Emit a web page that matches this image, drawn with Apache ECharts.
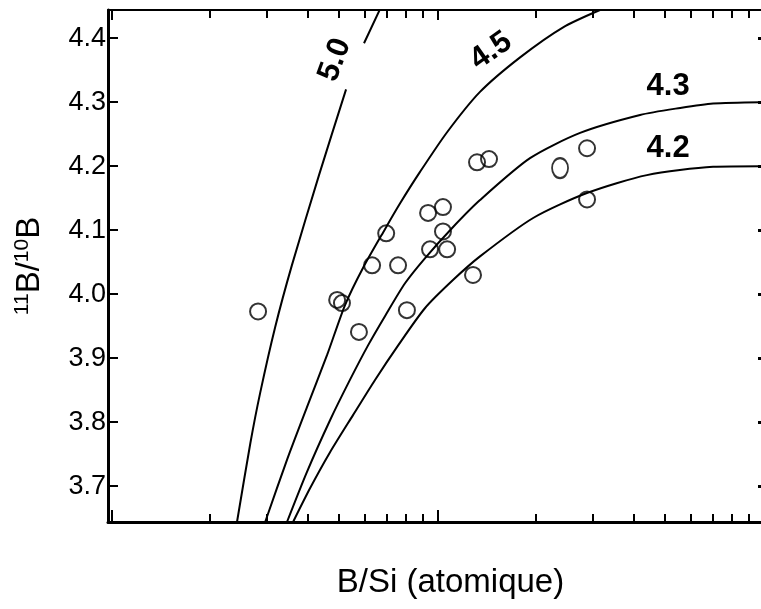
<!DOCTYPE html>
<html>
<head>
<meta charset="utf-8">
<script src="https://cdn.jsdelivr.net/npm/echarts@6/dist/echarts.min.js"></script>
<style>html,body{margin:0;padding:0;background:#fff}#c{width:761px;height:609px}</style>
</head>
<body>
<div id="c"></div>
<script>
// ---- data (B/Si atomic ratio, 11B/10B isotope ratio) ----
const sampleBSi   = [0.00282,0.00493,0.00510,0.00575,0.00807,0.00631,0.00697,0.00758,0.00937,0.01041,0.01041,0.00950,0.01072,0.01287,0.01324,0.01441,0.0238,0.0288,0.0288];
const sampleRatio = [3.973,3.991,3.986,3.941,3.975,4.045,4.095,4.045,4.127,4.136,4.098,4.070,4.070,4.030,4.206,4.211,4.197,4.228,4.148];

const curve50BSi   = [0.00243,0.00267,0.00286,0.00318,0.00358,0.004337,0.00525,null,0.00596,0.006768];
const curve50Ratio = [3.644,3.767,3.845,3.948,4.045,4.186,4.320,null,4.392,4.452];

const curve45BSi   = [0.002965,0.003459,0.003981,0.004592,0.005212,0.005916,0.006918,0.007691,0.008851,0.010715,0.01352,0.017947,0.024322,0.03155];
const curve45Ratio = [3.644,3.741,3.823,3.905,3.983,4.041,4.102,4.142,4.191,4.253,4.316,4.370,4.417,4.444];

const curve43BSi   = [0.003459,0.003981,0.004688,0.005395,0.006132,0.006918,0.007962,0.009162,0.01109,0.01352,0.01925,0.02742,0.04188,0.05559,0.07015,0.0984];
const curve43Ratio = [3.644,3.722,3.803,3.866,3.920,3.966,4.017,4.056,4.103,4.147,4.2125,4.252,4.280,4.291,4.298,4.300];

const curve42BSi   = [0.003611,0.004074,0.004688,0.005514,0.006442,0.007586,0.009162,0.01117,0.01352,0.01968,0.02877,0.04395,0.07015,0.0984];
const curve42Ratio = [3.644,3.697,3.753,3.811,3.866,3.920,3.978,4.022,4.059,4.119,4.158,4.186,4.199,4.200];

const curveNames = ['5.0','4.5','4.3','4.2'];
const yTickValues = [3.7,3.8,3.9,4.0,4.1,4.2,4.3,4.4];
const xMajorTicks = [0.001,0.01];
const xMinorTicks = [0.002,0.003,0.004,0.005,0.006,0.007,0.008,0.009,0.02,0.03,0.04,0.05,0.06,0.07,0.08,0.09];
const xRange = [0.000977,0.0984];
const yRange = [3.644,4.444];

// ---- build ----
const lg = v => Math.log10(v);
function pairs(xs, ys){ return xs.map((x,i)=> (x==null||ys[i]==null) ? '-' : [lg(x), ys[i]]); }
const XMIN = lg(xRange[0]), XMAX = lg(xRange[1]);

const chart = echarts.init(document.getElementById('c'), null, {renderer:'canvas'});
const font = 'Liberation Sans, Arial, Helvetica, sans-serif';

function xAx(pos, ticks, len, extra){
  return Object.assign({
    type:'value', position:pos, min:XMIN, max:XMAX,
    axisLine:{show:false},
    axisTick:{show:true, inside:true, length:len, customValues:ticks.map(lg), lineStyle:{color:'#000', width:2}},
    axisLabel:{show:false}, splitLine:{show:false}
  }, extra||{});
}

const labelStyle = {show:true, position:'inside', color:'#000', fontFamily:font, fontWeight:'bold', fontSize:31};
function curveSeries(name, xs, ys, lblCoord, rot){
  return {
    type:'line', name:name, data:pairs(xs, ys), showSymbol:false, symbol:'none',
    smooth:0.25, connectNulls:false, clip:true,
    lineStyle:{color:'#000', width:2}, silent:true, z:2,
    markPoint:{symbol:'circle', symbolSize:0, silent:true,
      data:[{coord:lblCoord, value:name}],
      label:Object.assign({formatter:name, rotate:rot}, labelStyle)}
  };
}

const scatterData = sampleBSi.map((x,i)=>{
  const d = {value:[lg(x), sampleRatio[i]]};
  if (i === 16) d.symbolSize = [16,20];
  return d;
});

chart.setOption({
  animation:false,
  backgroundColor:'#fff',
  grid:{left:108, right:0, top:10, bottom:87, containLabel:false},
  xAxis:[
    xAx('bottom', xMajorTicks, 12, {
      axisLine:{show:true, onZero:false, lineStyle:{color:'#000', width:3}},
      name:'B/Si (atomique)', nameLocation:'middle', nameGap:44,
      nameTextStyle:{fontFamily:font, fontSize:33, color:'#000', padding:[0,0,0,32]}
    }),
    xAx('bottom', xMinorTicks, 8),
    xAx('top', xMajorTicks, 10, {axisLine:{show:true, onZero:false, lineStyle:{color:'#000', width:2}}}),
    xAx('top', xMinorTicks, 8)
  ],
  yAxis:[
    {type:'value', position:'left', min:yRange[0], max:yRange[1],
     axisLine:{show:true, onZero:false, lineStyle:{color:'#000', width:3}},
     axisTick:{show:true, inside:true, length:10, customValues:yTickValues, lineStyle:{color:'#000', width:2}},
     axisLabel:{show:true, customValues:yTickValues, formatter:v=>Number(v).toFixed(1), fontFamily:font, fontSize:27, color:'#000', margin:2},
     splitLine:{show:false},
     name:'{sup|11}{b|B/}{sup|10}{b|B}', nameLocation:'middle', nameGap:60, nameRotate:90,
     nameTextStyle:{fontFamily:font, color:'#000', fontSize:33,
       rich:{b:{fontFamily:font, fontSize:33, color:'#000', lineHeight:36},
             sup:{fontFamily:font, fontSize:21, color:'#000', verticalAlign:'top', lineHeight:36, padding:[0,0,10,0]}}}
    },
    {type:'value', position:'right', min:yRange[0], max:yRange[1],
     axisLine:{show:false},
     axisTick:{show:true, inside:true, length:3, customValues:yTickValues, lineStyle:{color:'#000', width:3}},
     axisLabel:{show:false}, splitLine:{show:false}}
  ],
  series:[
    curveSeries(curveNames[0], curve50BSi, curve50Ratio, [-2.314, 4.366], 70),
    curveSeries(curveNames[1], curve45BSi, curve45Ratio, [-1.835, 4.380], 35),
    curveSeries(curveNames[2], curve43BSi, curve43Ratio, [-1.292, 4.325], 0),
    curveSeries(curveNames[3], curve42BSi, curve42Ratio, [-1.292, 4.228], 0),
    {type:'scatter', data:scatterData, symbol:'circle', symbolSize:16, z:3,
     itemStyle:{color:'rgba(0,0,0,0)', borderColor:'#000', borderWidth:2}}
  ]
});
</script>
</body>
</html>
